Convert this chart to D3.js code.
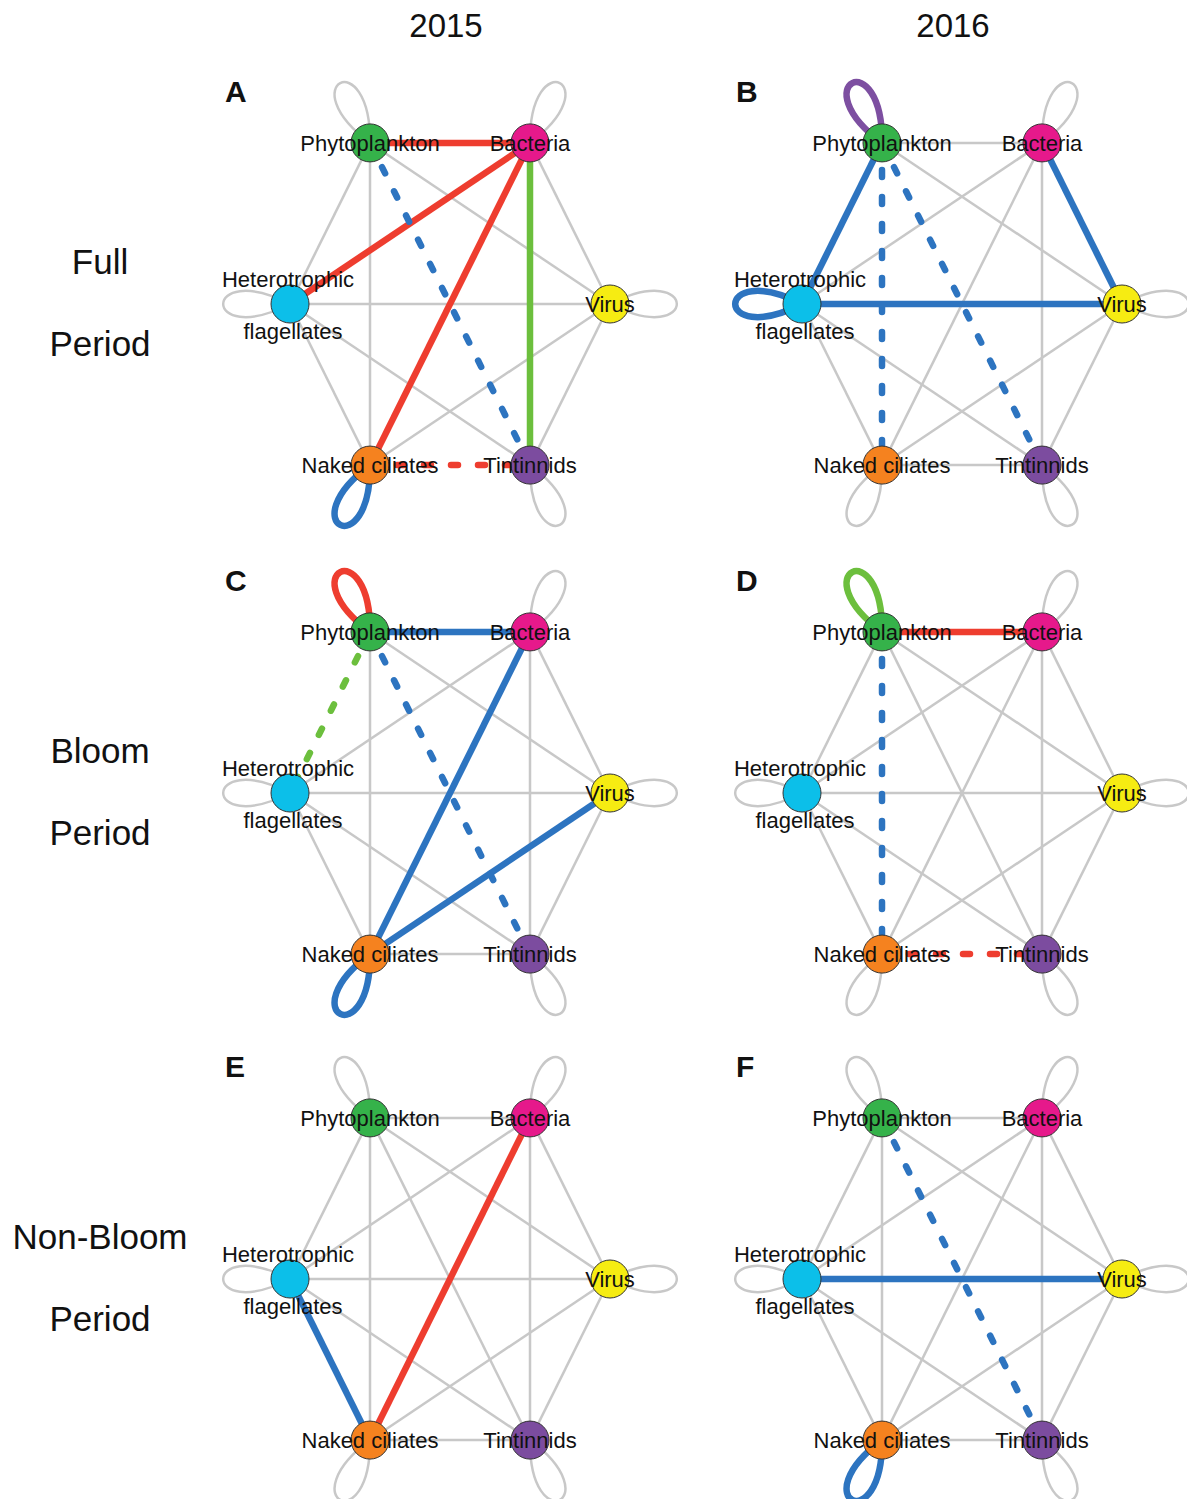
<!DOCTYPE html>
<html>
<head>
<meta charset="utf-8">
<script src="https://cdnjs.cloudflare.com/ajax/libs/d3/7.8.5/d3.min.js"></script>
<style>
  body { margin: 0; background: #fff; }
  text { font-family: "Liberation Sans", Arial, sans-serif; fill: #111; }
</style>
</head>
<body>
<svg id="chart" width="1187" height="1499"></svg>
<script>
// groups in the network, in hexagon order (starting top-left, clockwise)
var species = ["Phytoplankton", "Bacteria", "Virus", "Tintinnids", "Naked ciliates", "Heterotrophic flagellates"];
var years = ["2015", "2016"];
var periods = ["Full", "Bloom", "Non-Bloom"];
var panelLetters = ["A", "B", "C", "D", "E", "F"];

// significant links for each panel: [from, to, kind, dashed]
var linksA = [
  ["Phytoplankton", "Bacteria", "red", 0],
  ["Bacteria", "Heterotrophic flagellates", "red", 0],
  ["Bacteria", "Naked ciliates", "red", 0],
  ["Bacteria", "Tintinnids", "green", 0],
  ["Phytoplankton", "Tintinnids", "blue", 1],
  ["Naked ciliates", "Tintinnids", "red", 1],
  ["Naked ciliates", "Naked ciliates", "blue", 0]
];
var linksB = [
  ["Phytoplankton", "Heterotrophic flagellates", "blue", 0],
  ["Phytoplankton", "Naked ciliates", "blue", 1],
  ["Phytoplankton", "Tintinnids", "blue", 1],
  ["Bacteria", "Virus", "blue", 0],
  ["Heterotrophic flagellates", "Virus", "blue", 0],
  ["Phytoplankton", "Phytoplankton", "purple", 0],
  ["Heterotrophic flagellates", "Heterotrophic flagellates", "blue", 0]
];
var linksC = [
  ["Phytoplankton", "Bacteria", "blue", 0],
  ["Phytoplankton", "Heterotrophic flagellates", "green", 1],
  ["Phytoplankton", "Tintinnids", "blue", 1],
  ["Bacteria", "Naked ciliates", "blue", 0],
  ["Virus", "Naked ciliates", "blue", 0],
  ["Phytoplankton", "Phytoplankton", "red", 0],
  ["Naked ciliates", "Naked ciliates", "blue", 0]
];
var linksD = [
  ["Phytoplankton", "Bacteria", "red", 0],
  ["Phytoplankton", "Naked ciliates", "blue", 1],
  ["Naked ciliates", "Tintinnids", "red", 1],
  ["Phytoplankton", "Phytoplankton", "green", 0]
];
var linksE = [
  ["Bacteria", "Naked ciliates", "red", 0],
  ["Heterotrophic flagellates", "Naked ciliates", "blue", 0]
];
var linksF = [
  ["Heterotrophic flagellates", "Virus", "blue", 0],
  ["Phytoplankton", "Tintinnids", "blue", 1],
  ["Naked ciliates", "Naked ciliates", "blue", 0]
];
var panelLinks = [linksA, linksB, linksC, linksD, linksE, linksF];

var svg = d3.select("#chart");

var nodeColor = d3.scaleOrdinal()
  .domain(species)
  .range(["#35b24a", "#e6198b", "#f6ec12", "#7c4c9f", "#f5821f", "#0cbfe9"]);

var linkColor = d3.scaleOrdinal()
  .domain(["red", "blue", "green", "purple"])
  .range(["#ee3d2f", "#2d74c0", "#6cbf3d", "#7d4fa1"]);

// panel centres
var colScale = d3.scaleOrdinal().domain(years).range([450, 962]);
var rowScale = d3.scaleOrdinal().domain(periods).range([304, 793, 1279]);

// position around the hexagon
var angleScale = d3.scaleLinear().domain([0, 6]).range([-120, 240]);

var grey = "#c8c8c8";
var nodeR = 19;
var labelSize = "22px";

function loopPath(px, py, ux, uy) {
  var d = 100, a = 27 * Math.PI / 180;
  var c1x = (ux * Math.cos(a) - uy * Math.sin(a)) * d;
  var c1y = (ux * Math.sin(a) + uy * Math.cos(a)) * d;
  var c2x = (ux * Math.cos(-a) - uy * Math.sin(-a)) * d;
  var c2y = (ux * Math.sin(-a) + uy * Math.cos(-a)) * d;
  var p = d3.path();
  p.moveTo(px, py);
  p.bezierCurveTo(px + c1x, py + c1y, px + c2x, py + c2y, px, py);
  return p.toString();
}

// column titles
svg.selectAll("text.year")
  .data(years)
  .enter()
  .append("text")
  .attr("class", "year")
  .attr("x", function(d) { return colScale(d) - 4 - (d === "2016" ? 5 : 0); })
  .attr("y", 37)
  .attr("text-anchor", "middle")
  .style("font-size", "33px")
  .text(function(d) { return d; });

// row titles
periods.forEach(function(p) {
  var g = svg.append("g");
  g.append("text")
    .attr("x", 100).attr("y", rowScale(p) - 30)
    .attr("text-anchor", "middle")
    .style("font-size", "35px")
    .text(p);
  g.append("text")
    .attr("x", 100).attr("y", rowScale(p) + 52)
    .attr("text-anchor", "middle")
    .style("font-size", "35px")
    .text("Period");
});

panelLinks.forEach(function(links, i) {
  var cx = colScale(years[i % 2]);
  var cy = rowScale(periods[Math.floor(i / 2)]);

  var xScale = d3.scaleLinear().domain([-1, 1]).range([cx - 160, cx + 160]);
  var yScale = d3.scaleLinear().domain([-1, 1]).range([cy - 186, cy + 186]);

  var pos = {};
  species.forEach(function(s, k) {
    var ang = angleScale(k) * Math.PI / 180;
    var x = xScale(Math.cos(ang)), y = yScale(Math.sin(ang));
    var len = Math.hypot(x - cx, y - cy);
    pos[s] = { x: x, y: y, ux: (x - cx) / len, uy: (y - cy) / len };
  });

  var key = function(a, b) { return [a, b].sort().join("|"); };
  var hit = {};
  links.forEach(function(l) { hit[key(l[0], l[1])] = true; });

  // every pair plus self loops, grey background
  var pairs = [];
  species.forEach(function(a, m) {
    species.forEach(function(b, n) {
      if (n >= m && !hit[key(a, b)]) pairs.push([a, b]);
    });
  });

  var g = svg.append("g");

  g.selectAll("path.bg")
    .data(pairs)
    .enter()
    .append("path")
    .attr("class", "bg")
    .attr("d", function(d) {
      var s = pos[d[0]], t = pos[d[1]];
      if (d[0] === d[1]) return loopPath(s.x, s.y, s.ux, s.uy);
      return "M" + s.x + "," + s.y + "L" + t.x + "," + t.y;
    })
    .attr("fill", "none")
    .attr("stroke", grey)
    .attr("stroke-width", 2.5);

  g.selectAll("path.sig")
    .data(links)
    .enter()
    .append("path")
    .attr("class", "sig")
    .attr("d", function(d) {
      var s = pos[d[0]], t = pos[d[1]];
      if (d[0] === d[1]) return loopPath(s.x, s.y, s.ux, s.uy);
      return "M" + s.x + "," + s.y + "L" + t.x + "," + t.y;
    })
    .attr("fill", "none")
    .attr("stroke", function(d) { return linkColor(d[2]); })
    .attr("stroke-width", 6.5)
    .attr("stroke-linecap", function(d) { return d[3] ? "round" : "butt"; })
    .attr("stroke-dasharray", function(d) { return d[3] ? "7,20" : null; });

  g.selectAll("circle")
    .data(species)
    .enter()
    .append("circle")
    .attr("cx", function(d) { return pos[d].x; })
    .attr("cy", function(d) { return pos[d].y; })
    .attr("r", nodeR)
    .attr("fill", function(d) { return nodeColor(d); })
    .attr("stroke", "#333")
    .attr("stroke-width", 1);

  species.forEach(function(s) {
    var p = pos[s];
    if (s === "Heterotrophic flagellates") {
      g.append("text").attr("x", p.x - 2).attr("y", p.y - 17)
        .attr("text-anchor", "middle").style("font-size", labelSize).text("Heterotrophic");
      g.append("text").attr("x", p.x + 3).attr("y", p.y + 35)
        .attr("text-anchor", "middle").style("font-size", labelSize).text("flagellates");
    } else {
      g.append("text").attr("x", p.x).attr("y", p.y + 8)
        .attr("text-anchor", "middle").style("font-size", labelSize).text(s);
    }
  });

  g.append("text")
    .attr("x", cx - 225 + (i % 2 ? -1 : 0))
    .attr("y", cy - 202)
    .style("font-size", "30px")
    .style("font-weight", "bold")
    .text(panelLetters[i]);
});
</script>
</body>
</html>
